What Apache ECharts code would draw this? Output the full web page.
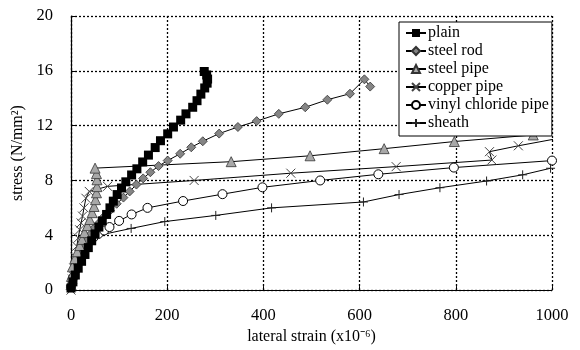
<!DOCTYPE html>
<html>
<head>
<meta charset="utf-8">
<script src="https://cdn.jsdelivr.net/npm/echarts@6/dist/echarts.min.js"></script>
<style>html,body{margin:0;padding:0;background:#fff}#c{width:580px;height:350px}</style>
</head>
<body>
<div id="c"></div>
<script>
const seriesNames = ['plain', 'steel rod', 'steel pipe', 'copper pipe', 'vinyl chloride pipe', 'sheath'];
const xTicks = [0, 200, 400, 600, 800, 1000];
const yTicks = [0, 4, 8, 12, 16, 20];

const plain = [[0,0.15],[4,0.6],[9,1.1],[15,1.6],[22,2.1],[29,2.6],[36,3.1],[43,3.6],[50,4.1],[58,4.6],[65,5.05],[74,5.52],[81,6.0],[88,6.49],[96,6.97],[105,7.45],[114,7.9],[126,8.4],[137,8.85],[149,9.35],[161,9.85],[175,10.4],[186,10.9],[201,11.4],[213,11.9],[228,12.4],[239,12.86],[253,13.34],[262,13.82],[270,14.3],[278,14.75],[283,15.1],[284,15.4],[282,15.7],[277,15.95]];
const steelRod = [[0,0.2],[2,0.6],[6,1.1],[10,1.6],[15,2.1],[21,2.6],[27,3.1],[33,3.6],[40,4.05],[46,4.45],[57,4.85],[67,5.3],[81,5.8],[95,6.3],[109,6.75],[122,7.2],[136,7.7],[150,8.15],[165,8.6],[182,9.05],[201,9.45],[227,9.95],[250,10.42],[274,10.86],[308,11.42],[347,11.9],[386,12.33],[432,12.86],[487,13.34],[533,13.89],[580,14.33],[610,15.38],[622,14.85]];
const steelPipe = [[0,0.4],[1,1.0],[3,1.7],[8,2.3],[13,2.8],[18,3.25],[23,3.7],[28,4.2],[34,4.7],[39,5.15],[44,5.65],[48,6.1],[51,6.6],[53,7.1],[54,7.55],[54,8.05],[53,8.5],[50,8.9],[333,9.37],[497,9.8],[651,10.32],[797,10.84],[961,11.32],[1020,11.5]];
const copperPipe = [[0,0],[3,0.8],[6,1.6],[9,2.4],[12,3.2],[15,3.8],[18,4.4],[21,4.9],[24,5.4],[27,6.0],[31,6.7],[38,7.2],[76,7.57],[256,8.0],[457,8.53],[676,9.01],[875,9.49],[870,10.1],[930,10.53],[1010,11.05]];
const vinylPipe = [[0,0.25],[3.5,0.85],[9,1.45],[14,2.05],[21,2.5],[28,3.0],[37,3.5],[47,3.85],[57,4.1],[69,4.35],[80,4.6],[100,5.05],[126,5.52],[159,6.0],[233,6.5],[315,7.0],[398,7.5],[518,8.0],[639,8.45],[796,8.94],[1000,9.45]];
const sheath = [[0,0.25],[3,0.85],[8,1.45],[13,2.05],[20,2.55],[27,3.05],[35,3.5],[45,3.9],[125,4.5],[195,5.0],[301,5.45],[417,6.0],[608,6.43],[682,6.97],[767,7.47],[864,7.96],[939,8.41],[997,8.89]];

const serif = 'Liberation Serif';
const X_PATH = 'path://M0,0L10,10M10,0L0,10';
const PLUS_PATH = 'path://M5,0L5,10M0,5L10,5';

function mk(name, data, symbol, size, fill, stroke, bw) {
  return {
    name: name, type: 'line', data: data, symbol: symbol, symbolSize: size,
    showAllSymbol: true, clip: true, animation: false,
    lineStyle: { color: '#000', width: 1 },
    itemStyle: { color: fill, borderColor: stroke, borderWidth: bw, opacity: 1 },
    emphasis: { disabled: true }
  };
}

const chart = echarts.init(document.getElementById('c'), null, { renderer: 'canvas' });
chart.setOption({
  backgroundColor: '#fff',
  animation: false,
  textStyle: { fontFamily: serif },
  grid: { left: 71, right: 28, top: 16, bottom: 57, containLabel: false },
  xAxis: {
    type: 'value', min: xTicks[0], max: xTicks[xTicks.length - 1], interval: 200,
    name: 'lateral strain (x10\u207B\u2076)', nameLocation: 'middle', nameGap: 35,
    nameTextStyle: { fontFamily: serif, fontSize: 16, color: '#000' },
    axisLine: { show: true, onZero: false, lineStyle: { color: '#000', width: 1.2 } },
    axisTick: { show: true, inside: true, length: 4, lineStyle: { color: '#000' } },
    axisLabel: { fontFamily: serif, fontSize: 16.5, color: '#000', margin: 17, formatter: v => String(v) },
    splitLine: { show: true, lineStyle: { color: '#000', type: [2, 2], width: 1.3 } }
  },
  yAxis: {
    type: 'value', min: yTicks[0], max: yTicks[yTicks.length - 1], interval: 4,
    name: 'stress (N/mm\u00B2)', nameLocation: 'middle', nameGap: 40, nameRotate: 90,
    nameTextStyle: { fontFamily: serif, fontSize: 16, color: '#000' },
    axisLine: { show: true, onZero: false, lineStyle: { color: '#000', width: 1.2 } },
    axisTick: { show: true, inside: true, length: 4, lineStyle: { color: '#000' } },
    axisLabel: { fontFamily: serif, fontSize: 16.5, color: '#000', margin: 18 },
    splitLine: { show: true, lineStyle: { color: '#000', type: [2, 2], width: 1.3 } }
  },
  legend: {
    orient: 'vertical', left: 399, top: 22,
    backgroundColor: '#fff', borderColor: '#000', borderWidth: 1,
    padding: [3, 3, 5, 6], itemWidth: 20, itemHeight: 10, itemGap: 2,
    textStyle: { fontFamily: serif, fontSize: 16, color: '#000', padding: [0, 0, 0, -3] },
    data: seriesNames
  },
  series: [
    mk(seriesNames[4], vinylPipe, 'circle', 9, '#fff', '#000', 1),
    mk(seriesNames[5], sheath, PLUS_PATH, 9, 'transparent', '#222', 1),
    mk(seriesNames[3], copperPipe, X_PATH, 9, 'transparent', '#444', 1),
    mk(seriesNames[1], steelRod, 'diamond', 9, '#858585', '#333', 0.8),
    mk(seriesNames[2], steelPipe, 'triangle', 10, '#a8a8a8', '#333', 0.8),
    mk(seriesNames[0], plain, 'rect', 9, '#000', '#000', 0)
  ]
});
</script>
</body>
</html>
